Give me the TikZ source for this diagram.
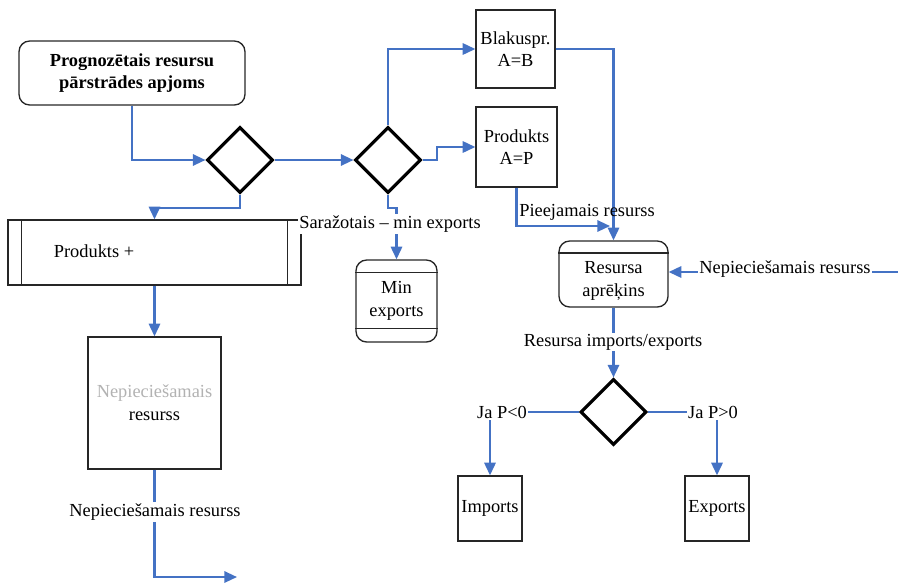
\documentclass[tikz,border=0pt]{standalone}
\usepackage{fontspec}
\setmainfont{Liberation Serif}
\usetikzlibrary{shapes.geometric,arrows.meta}
\definecolor{flowblue}{HTML}{4472C4}
\begin{document}
\begin{tikzpicture}[x=0.75pt,y=-0.75pt,
  every node/.style={font=\fontsize{13.8}{17}\selectfont},
  box/.style={draw=black!85,line width=1pt,inner sep=0pt,align=center},
  rbox/.style={box,rounded corners=8pt},
  dia/.style={draw=black,line width=2.3pt,diamond,aspect=1,minimum size=49.5pt,inner sep=0pt},
  arr/.style={draw=flowblue,line width=1.6pt,-{Triangle[length=9.5pt,width=8.5pt]}},
  lab/.style={fill=white,inner sep=1pt}]
\useasboundingbox (0,0) rectangle (898,583);

% nodes
\node[rbox,minimum width=169.5pt,minimum height=48pt,font=\fontsize{13.8}{17}\selectfont\bfseries] (prog) at (132,73) {Prognozētais resursu\\pārstrādes apjoms};
\node[dia] (d1) at (240,160) {};
\node[dia] (d2) at (388,160) {};
\node[box,minimum width=59.25pt,minimum height=58.5pt] (blak) at (515.5,49) {Blakuspr.\\A=B};
\node[box,minimum width=60.75pt,minimum height=60pt] (prod) at (516.5,147) {Produkts\\A=P};
\node[rbox,minimum width=81.75pt,minimum height=49.5pt] (res) at (613.5,274) {};
\draw[black!85,line width=1pt] ([yshift=-9.5pt]res.north west) -- ([yshift=-9.5pt]res.north east);
\node[align=center] (restxt) at (613.5,281) {Resursa\\aprēķins};
\node[dia] (d3) at (613.5,412) {};
\node[box,minimum width=48pt,minimum height=48.75pt] (imp) at (490,508.5) {Imports};
\node[box,minimum width=48pt,minimum height=48.75pt] (exp) at (717,508.5) {Exports};
\node[box,minimum width=219.75pt,minimum height=48.75pt] (pp) at (154.5,252.5) {};
\draw[black!85,line width=1pt] ([xshift=10.5pt]pp.north west) -- ([xshift=10.5pt]pp.south west);
\draw[black!85,line width=1pt] ([xshift=-10.5pt]pp.north east) -- ([xshift=-10.5pt]pp.south east);
\node (pptxt) at (94,251) {Produkts +};
\node[rbox,minimum width=60.75pt,minimum height=61.5pt] (minx) at (396.5,301) {Min\\exports};
\draw[black!85,line width=1pt] ([yshift=-9.75pt]minx.north west) -- ([yshift=-9.75pt]minx.north east);
\draw[black!85,line width=1pt] ([yshift=10.5pt]minx.south west) -- ([yshift=10.5pt]minx.south east);
\node[box,minimum width=99.75pt,minimum height=99pt] (nep) at (154.5,403) {{\color{black!30}Nepieciešamais}\\resurss};

% connectors
\draw[arr] (prog.south) |- (d1.west);
\draw[arr] (d1.east) -- (d2.west);
\draw[arr] (d2.north) |- (blak.west);
\draw[arr] (d2.east) -- (437,160) |- (prod.west);
\draw[arr] (blak.east) -| (res.north);
\draw[arr] (prod.south) |- (610,226);
\node[inner sep=1pt] (pieej) at (587,212) {Pieejamais resurss};
\coordinate (rin) at (898,272);
\draw[arr] (rin) -- (res.east |- rin);
\node[lab] (neptxt) at (785,269) {Nepieciešamais resurss};
\draw[arr] (res.south) -- (d3.north);
\node[lab] (rie) at (613,342) {Resursa imports/exports};
\draw[arr] (d3.west) -| (imp.north);
\node[lab] (jlt) at (502,412) {Ja P<0};
\draw[arr] (d3.east) -| (exp.north);
\node[lab] (jgt) at (713,412) {Ja P>0};
\draw[arr] (d1.south) -- (240,208) -| (pp.north);
\draw[arr] (d2.south) -- (388,208) -| (minx.north);
\node[lab] (sar) at (390,224) {Saražotais – min exports};
\draw[arr] (pp.south) -- (nep.north);
\coordinate (nout) at (237,577);
\draw[arr] (nep.south) -- (154.5,577) -- (nout);
\node[lab] (neb) at (155,512) {Nepieciešamais resurss};
\end{tikzpicture}
\end{document}
